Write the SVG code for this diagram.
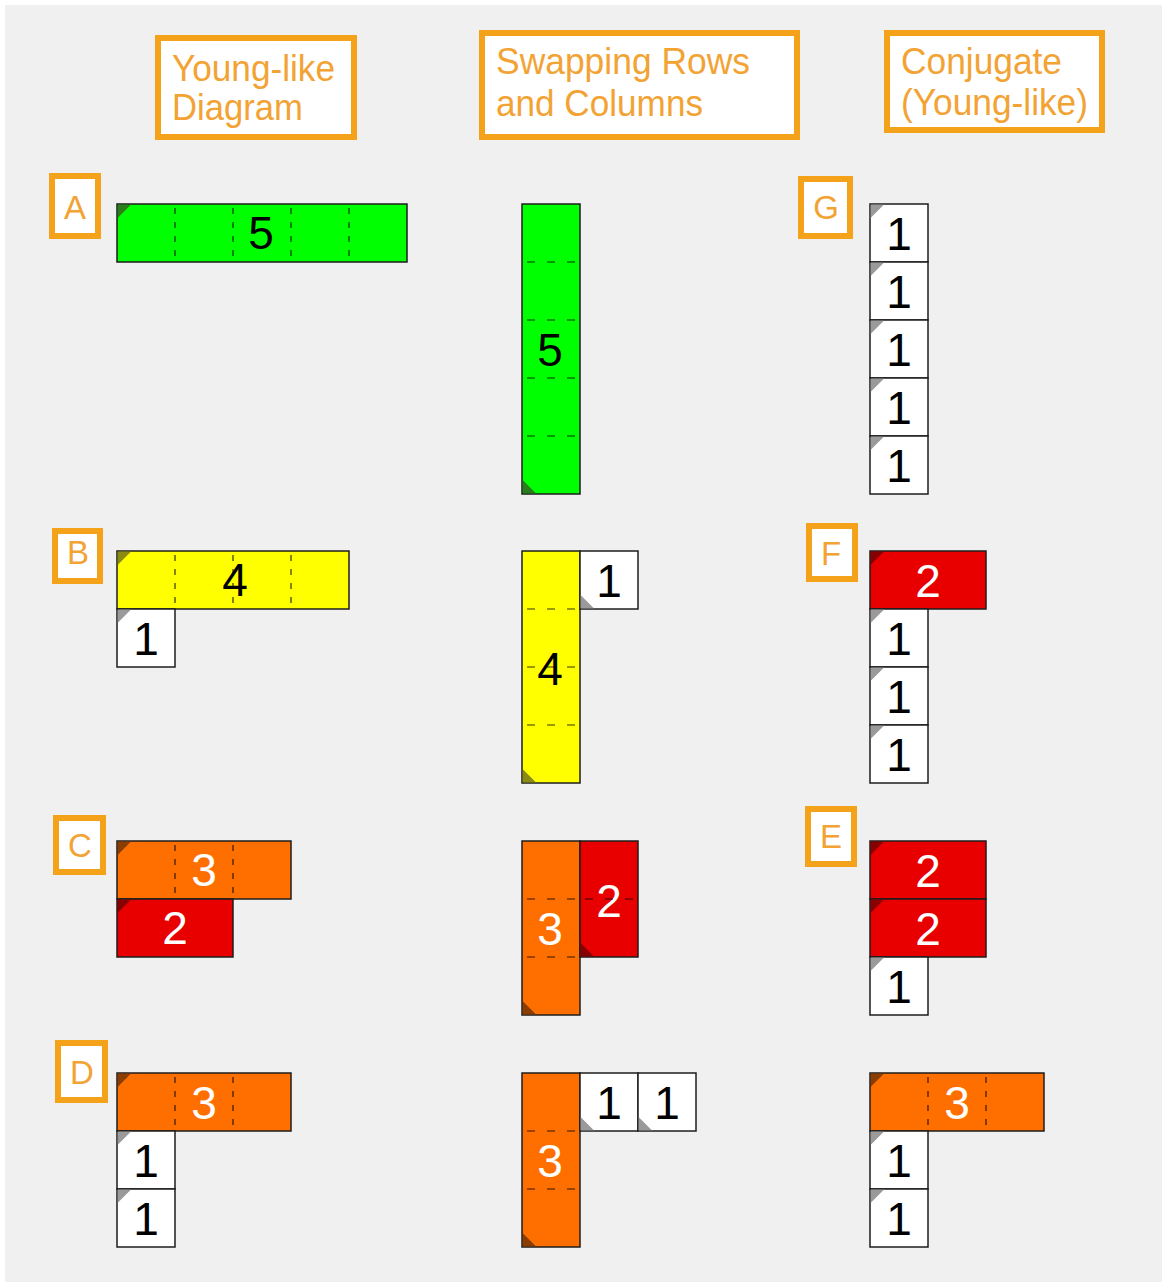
<svg xmlns="http://www.w3.org/2000/svg" width="1167" height="1287" viewBox="0 0 1167 1287">
<style>
.bg{fill:#f0f0f0}
.hdr{fill:#fff;stroke:#F5A21B;stroke-width:6}
.ht{font-family:"Liberation Sans",Arial,sans-serif;font-size:37px;fill:#F2A334}
.lb{fill:#fff;stroke:#F5A21B;stroke-width:6}
.lt{font-family:"Liberation Sans",Arial,sans-serif;font-size:33px;fill:#F2A334;text-anchor:middle}
.blk{stroke:#1c1c1c;stroke-width:1.5}
.g{fill:#00FF00}.y{fill:#FFFF00}.o{fill:#FF6F00}.r{fill:#E80000}.w{fill:#fff}
.tg{fill:#2b7d1c}.ty{fill:#8a8a14}.to{fill:#8a3d00}.tr{fill:#880000}.tw{fill:#9a9a9a}
.dv{stroke:#000;stroke-opacity:.8;stroke-width:1.2;stroke-dasharray:6 8}
.dh{stroke:#000;stroke-opacity:.8;stroke-width:1.2;stroke-dasharray:8 12}
.n{font-family:"Liberation Sans",Arial,sans-serif;font-size:46px;text-anchor:middle}
.nb{fill:#000}.nw{fill:#fff}
</style>
<rect width="1167" height="1287" fill="#fff"/>
<rect class="bg" x="5" y="5" width="1157" height="1277"/>

<g id="header-young">
<rect class="hdr" x="158" y="38" width="196" height="99"/>
<text class="ht" x="172" y="81" textLength="163" lengthAdjust="spacingAndGlyphs">Young-like</text>
<text class="ht" x="172" y="120" textLength="131" lengthAdjust="spacingAndGlyphs">Diagram</text>
</g>
<g id="header-swap">
<rect class="hdr" x="482" y="33" width="315" height="104"/>
<text class="ht" x="496" y="74" textLength="254" lengthAdjust="spacingAndGlyphs">Swapping Rows</text>
<text class="ht" x="496" y="116" textLength="207" lengthAdjust="spacingAndGlyphs">and Columns</text>
</g>
<g id="header-conj">
<rect class="hdr" x="887" y="33" width="215" height="97"/>
<text class="ht" x="901" y="74" textLength="161" lengthAdjust="spacingAndGlyphs">Conjugate</text>
<text class="ht" x="901" y="115" textLength="187" lengthAdjust="spacingAndGlyphs">(Young-like)</text>
</g>

<g id="label-A"><rect class="lb" x="52" y="176" width="46" height="60"/><text class="lt" x="75" y="219">A</text></g>
<g id="label-B"><rect class="lb" x="55" y="531" width="45" height="50"/><text class="lt" x="78" y="564">B</text></g>
<g id="label-C"><rect class="lb" x="56" y="818" width="47" height="54"/><text class="lt" x="80" y="857">C</text></g>
<g id="label-D"><rect class="lb" x="58" y="1043" width="47" height="57"/><text class="lt" x="82" y="1084">D</text></g>
<g id="label-G"><rect class="lb" x="801" y="179" width="49" height="57"/><text class="lt" x="826" y="219">G</text></g>
<g id="label-F"><rect class="lb" x="809" y="526" width="46" height="53"/><text class="lt" x="831" y="565">F</text></g>
<g id="label-E"><rect class="lb" x="808" y="809" width="46" height="55"/><text class="lt" x="831" y="848">E</text></g>

<!-- Row A -->
<g id="A-young">
<rect class="blk g" x="117" y="204" width="290" height="58"/>
<path class="tg" d="M117.8,204.8h13L117.8,217.8Z"/>
<text class="n nb" x="261" y="249">5</text>
<line class="dv" x1="175" y1="208" x2="175" y2="258"/><line class="dv" x1="233" y1="208" x2="233" y2="258"/><line class="dv" x1="291" y1="208" x2="291" y2="258"/><line class="dv" x1="349" y1="208" x2="349" y2="258"/>
</g>
<g id="A-swap">
<rect class="blk g" x="522" y="204" width="58" height="290"/>
<path class="tg" d="M522.8,493.2h13L522.8,480.2Z"/>
<text class="n nb" x="550" y="366">5</text>
<line class="dh" x1="527" y1="262" x2="575" y2="262"/><line class="dh" x1="527" y1="320" x2="575" y2="320"/><line class="dh" x1="527" y1="378" x2="575" y2="378"/><line class="dh" x1="527" y1="436" x2="575" y2="436"/>
</g>
<g id="G-conj">
<rect class="blk w" x="870" y="204" width="58" height="58"/><path class="tw" d="M870.8,204.8h13L870.8,217.8Z"/><text class="n nb" x="899" y="250">1</text>
<rect class="blk w" x="870" y="262" width="58" height="58"/><path class="tw" d="M870.8,262.8h13L870.8,275.8Z"/><text class="n nb" x="899" y="308">1</text>
<rect class="blk w" x="870" y="320" width="58" height="58"/><path class="tw" d="M870.8,320.8h13L870.8,333.8Z"/><text class="n nb" x="899" y="366">1</text>
<rect class="blk w" x="870" y="378" width="58" height="58"/><path class="tw" d="M870.8,378.8h13L870.8,391.8Z"/><text class="n nb" x="899" y="424">1</text>
<rect class="blk w" x="870" y="436" width="58" height="58"/><path class="tw" d="M870.8,436.8h13L870.8,449.8Z"/><text class="n nb" x="899" y="482">1</text>
</g>

<!-- Row B -->
<g id="B-young">
<rect class="blk y" x="117" y="551" width="232" height="58"/>
<path class="ty" d="M117.8,551.8h13L117.8,564.8Z"/>
<text class="n nb" x="235" y="596">4</text>
<line class="dv" x1="175" y1="555" x2="175" y2="605"/><line class="dv" x1="233" y1="555" x2="233" y2="605"/><line class="dv" x1="291" y1="555" x2="291" y2="605"/>
<rect class="blk w" x="117" y="609" width="58" height="58"/><path class="tw" d="M117.8,609.8h13L117.8,622.8Z"/><text class="n nb" x="146" y="655">1</text>
</g>
<g id="B-swap">
<rect class="blk y" x="522" y="551" width="58" height="232"/>
<path class="ty" d="M522.8,782.2h13L522.8,769.2Z"/>
<text class="n nb" x="550" y="685">4</text>
<line class="dh" x1="527" y1="609" x2="575" y2="609"/><line class="dh" x1="527" y1="667" x2="575" y2="667"/><line class="dh" x1="527" y1="725" x2="575" y2="725"/>
<rect class="blk w" x="580" y="551" width="58" height="58"/><path class="tw" d="M580.8,608.2h13L580.8,595.2Z"/><text class="n nb" x="609" y="597">1</text>
</g>
<g id="F-conj">
<rect class="blk r" x="870" y="551" width="116" height="58"/><path class="tr" d="M870.8,551.8h13L870.8,564.8Z"/><text class="n nw" x="928" y="597">2</text>
<rect class="blk w" x="870" y="609" width="58" height="58"/><path class="tw" d="M870.8,609.8h13L870.8,622.8Z"/><text class="n nb" x="899" y="655">1</text>
<rect class="blk w" x="870" y="667" width="58" height="58"/><path class="tw" d="M870.8,667.8h13L870.8,680.8Z"/><text class="n nb" x="899" y="713">1</text>
<rect class="blk w" x="870" y="725" width="58" height="58"/><path class="tw" d="M870.8,725.8h13L870.8,738.8Z"/><text class="n nb" x="899" y="771">1</text>
</g>

<!-- Row C -->
<g id="C-young">
<rect class="blk o" x="117" y="841" width="174" height="58"/><path class="to" d="M117.8,841.8h13L117.8,854.8Z"/>
<text class="n nw" x="204" y="886">3</text>
<line class="dv" x1="175" y1="845" x2="175" y2="895"/><line class="dv" x1="233" y1="845" x2="233" y2="895"/>
<rect class="blk r" x="117" y="899" width="116" height="58"/><path class="tr" d="M117.8,899.8h13L117.8,912.8Z"/>
<text class="n nw" x="175" y="944">2</text>
</g>
<g id="C-swap">
<rect class="blk o" x="522" y="841" width="58" height="174"/><path class="to" d="M522.8,1014.2h13L522.8,1001.2Z"/>
<text class="n nw" x="550" y="945">3</text>
<line class="dh" x1="527" y1="899" x2="575" y2="899"/><line class="dh" x1="527" y1="957" x2="575" y2="957"/>
<rect class="blk r" x="580" y="841" width="58" height="116"/><path class="tr" d="M580.8,956.2h13L580.8,943.2Z"/>
<text class="n nw" x="609" y="917">2</text>
<line class="dh" x1="585" y1="899" x2="633" y2="899"/>
</g>
<g id="E-conj">
<rect class="blk r" x="870" y="841" width="116" height="58"/><path class="tr" d="M870.8,841.8h13L870.8,854.8Z"/><text class="n nw" x="928" y="887">2</text>
<rect class="blk r" x="870" y="899" width="116" height="58"/><path class="tr" d="M870.8,899.8h13L870.8,912.8Z"/><text class="n nw" x="928" y="945">2</text>
<rect class="blk w" x="870" y="957" width="58" height="58"/><path class="tw" d="M870.8,957.8h13L870.8,970.8Z"/><text class="n nb" x="899" y="1003">1</text>
</g>

<!-- Row D -->
<g id="D-young">
<rect class="blk o" x="117" y="1073" width="174" height="58"/><path class="to" d="M117.8,1073.8h13L117.8,1086.8Z"/>
<text class="n nw" x="204" y="1119">3</text>
<line class="dv" x1="175" y1="1077" x2="175" y2="1127"/><line class="dv" x1="233" y1="1077" x2="233" y2="1127"/>
<rect class="blk w" x="117" y="1131" width="58" height="58"/><path class="tw" d="M117.8,1131.8h13L117.8,1144.8Z"/><text class="n nb" x="146" y="1177">1</text>
<rect class="blk w" x="117" y="1189" width="58" height="58"/><path class="tw" d="M117.8,1189.8h13L117.8,1202.8Z"/><text class="n nb" x="146" y="1235">1</text>
</g>
<g id="D-swap">
<rect class="blk o" x="522" y="1073" width="58" height="174"/><path class="to" d="M522.8,1246.2h13L522.8,1233.2Z"/>
<text class="n nw" x="550" y="1177">3</text>
<line class="dh" x1="527" y1="1131" x2="575" y2="1131"/><line class="dh" x1="527" y1="1189" x2="575" y2="1189"/>
<rect class="blk w" x="580" y="1073" width="58" height="58"/><path class="tw" d="M580.8,1130.2h13L580.8,1117.2Z"/><text class="n nb" x="609" y="1119">1</text>
<rect class="blk w" x="638" y="1073" width="58" height="58"/><path class="tw" d="M638.8,1130.2h13L638.8,1117.2Z"/><text class="n nb" x="667" y="1119">1</text>
</g>
<g id="D-conj">
<rect class="blk o" x="870" y="1073" width="174" height="58"/><path class="to" d="M870.8,1073.8h13L870.8,1086.8Z"/>
<text class="n nw" x="957" y="1119">3</text>
<line class="dv" x1="928" y1="1077" x2="928" y2="1127"/><line class="dv" x1="986" y1="1077" x2="986" y2="1127"/>
<rect class="blk w" x="870" y="1131" width="58" height="58"/><path class="tw" d="M870.8,1131.8h13L870.8,1144.8Z"/><text class="n nb" x="899" y="1177">1</text>
<rect class="blk w" x="870" y="1189" width="58" height="58"/><path class="tw" d="M870.8,1189.8h13L870.8,1202.8Z"/><text class="n nb" x="899" y="1235">1</text>
</g>

<g id="connectors"></g>
</svg>
